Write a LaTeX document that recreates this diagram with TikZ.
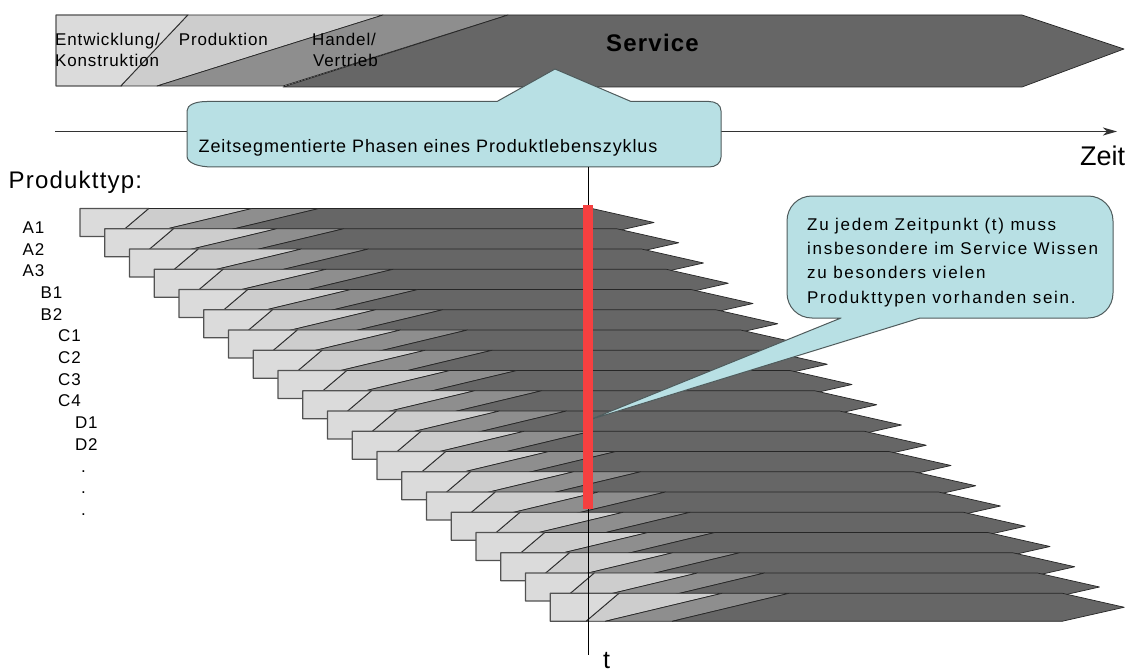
\documentclass[tikz,border=0pt]{standalone}
\usepackage{fontspec}
\setmainfont{Liberation Sans}
\newfontfamily\fB{Liberation Sans}[LetterSpace=5]
\newfontfamily\fC{Liberation Sans}[LetterSpace=10]
\usetikzlibrary{arrows.meta}
\definecolor{segA}{HTML}{DBDBDB}
\definecolor{segB}{HTML}{CDCDCD}
\definecolor{segC}{HTML}{8E8E8E}
\definecolor{segD}{HTML}{666666}
\definecolor{callfill}{HTML}{B8E0E4}
\definecolor{callline}{HTML}{4F5B5C}
\definecolor{redbar}{RGB}{245,64,64}
\tikzset{
  txt/.style={inner sep=0pt, anchor=base west},
  fs17/.style={txt, font=\fB\fontsize{17}{20}\selectfont},
  fs18/.style={txt, font=\fB\fontsize{18}{21}\selectfont},
  fsc/.style={txt, font=\fC\fontsize{17}{20}\selectfont},
  seg1/.style={fill=segA, draw=black!68, line width=1.3pt, line join=round},
  seg2/.style={fill=segB, draw=black!85, line width=0.7pt, line join=round},
  seg3/.style={fill=segC, draw=black!85, line width=0.7pt, line join=round},
  seg4/.style={fill=segD, draw=black!85, line width=0.7pt, line join=round},
  callout/.style={fill=callfill, draw=callline, line width=1pt, line join=round},
}
\begin{document}
\begin{tikzpicture}[x=1pt,y=-1pt]
\clip (0,0) rectangle (1131,671);
\fill[white] (0,0) rectangle (1131,671);

% ---------- top banner ----------
\filldraw[seg1] (56,15) -- (188,15) -- (121,86) -- (56,86) -- cycle;
\filldraw[seg2] (188,15) -- (383,15) -- (157,86) -- (121,86) -- cycle;
\filldraw[seg3] (383,15) -- (508,15) -- (283,86) -- (157,86) -- cycle;
\filldraw[seg4] (508,15) -- (1022,15) -- (1124,49) -- (1022,87) -- (283,87) -- cycle;

\node[fs17] (entw1) at (55,45.7) {Entwicklung/};
\node[fs17] (entw2) at (55,66.7) {Konstruktion};
\node[fs17] (prod) at (178.7,45.7) {Produktion};
\node[fs17] (hand1) at (312,45.7) {Handel/};
\node[fs17] (hand2) at (313,66.7) {Vertrieb};
\node[txt, font=\fB\bfseries\fontsize{24}{28}\selectfont] (serv) at (606,51.7) {Service};

% ---------- time axis ----------
\coordinate (tl0) at (55,131.5);
\coordinate (tl1) at (1117,131.5);
\draw[black!80, line width=1.3pt, -{Stealth[length=14pt,width=8pt,inset=4pt]}] (tl0) -- (tl1);
\node[txt, font=\fontsize{27}{30}\selectfont] (zeit) at (1080,165) {Zeit};

% ---------- callout 1 ----------
\path[callout] (207,101.5) -- (497,101.5) -- (555,69) -- (631,101.5) -- (709,101.5)
  .. controls (716,101.5) and (721,105) .. (721,111) -- (721,157)
  .. controls (721,163) and (716,167) .. (709,167) -- (213,167)
  .. controls (198,167) and (187,163) .. (187,156) -- (187,111)
  .. controls (187,105) and (195,101.5) .. (207,101.5) -- cycle;
\node[fs18] (c1txt) at (198.5,152.3) {Zeitsegmentierte Phasen eines Produktlebenszyklus};

% ---------- labels ----------
\node[txt, font=\fB\fontsize{24}{28}\selectfont] (ptyp) at (8.5,188.3) {Produkttyp:};
\node[fs17] (lA1) at (22.5,233.3) {A1};
\node[fs17] (lA2) at (22.5,255.0) {A2};
\node[fs17] (lA3) at (22.5,276.7) {A3};
\node[fs17] (lB1) at (40.5,298.4) {B1};
\node[fs17] (lB2) at (40.5,320.1) {B2};
\node[fs17] (lC1) at (58,341.8) {C1};
\node[fs17] (lC2) at (58,363.5) {C2};
\node[fs17] (lC3) at (58,385.2) {C3};
\node[fs17] (lC4) at (58,406.9) {C4};
\node[fs17] (lD1) at (74.8,428.6) {D1};
\node[fs17] (lD2) at (74.8,450.3) {D2};
\node[fs17] (ld1) at (81,472.0) {.};
\node[fs17] (ld2) at (81,493.7) {.};
\node[fs17] (ld3) at (81,515.4) {.};

% ---------- stacked product bars ----------
\foreach \n in {0,...,19}{
  \begin{scope}[shift={({80+24.75*\n},{208.5+20.25*\n})}]
    \filldraw[seg1] (0,0) -- (69,0) -- (36,28) -- (0,28) -- cycle;
    \filldraw[seg2] (69,0) -- (172,0) -- (55,28) -- (36,28) -- cycle;
    \filldraw[seg3] (172,0) -- (239,0) -- (122,28) -- (55,28) -- cycle;
    \filldraw[seg4] (239,0) -- (512,0) -- (574,14) -- (512,28) -- (122,28) -- cycle;
  \end{scope}
}

% ---------- callout 2 ----------
\path[callout] (812,196) -- (1088,196) .. controls (1102,196) and (1113,207) .. (1113,221)
  -- (1113,293) .. controls (1113,307) and (1102,318) .. (1088,318)
  -- (920,318) -- (589,420) -- (841,318) -- (812,318)
  .. controls (798,318) and (787,307) .. (787,293) -- (787,221)
  .. controls (787,207) and (798,196) .. (812,196) -- cycle;
\node[fsc] (c2a) at (807,230) {Zu jedem Zeitpunkt (t) muss};
\node[fsc] (c2b) at (807,254.4) {insbesondere im Service Wissen};
\node[fsc] (c2c) at (807,278.8) {zu besonders vielen};
\node[fsc] (c2d) at (807,303.2) {Produkttypen vorhanden sein.};

% ---------- time marker ----------
\coordinate (vt) at (588,167);
\coordinate (vb) at (588,655);
\draw[black, line width=1pt] (vt) -- (vb);
\fill[redbar] (583,205) rectangle (593,509);
\node[txt, font=\fontsize{25}{30}\selectfont] (tlab) at (603,668) {t};

% ---------- caption (cut off at bottom, as in the reference) ----------
\node[txt, font=\fontsize{27}{30}\selectfont] (capt) at (0,691) {Abbildung 3};
\end{tikzpicture}
\end{document}
